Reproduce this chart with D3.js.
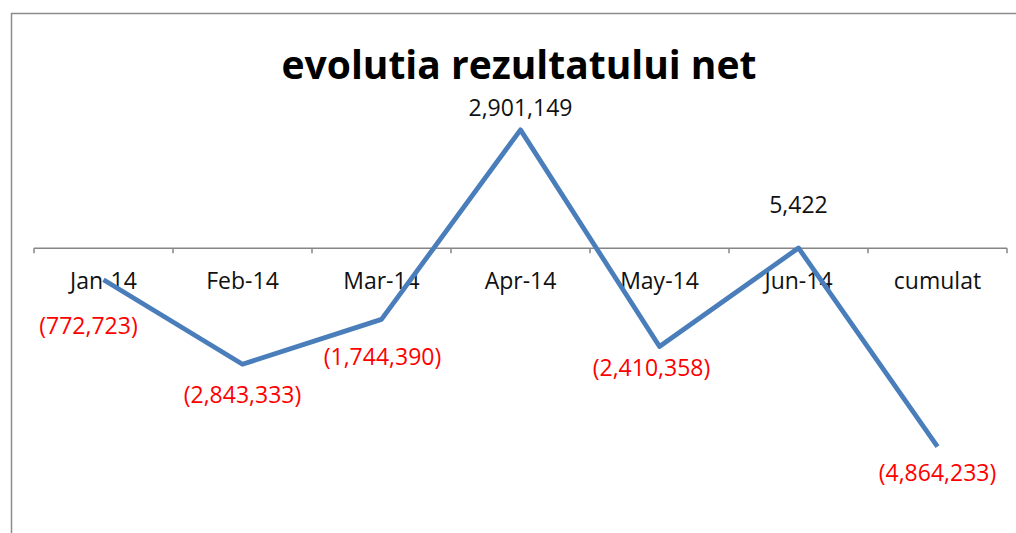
<!DOCTYPE html>
<html>
<head>
<meta charset="utf-8">
<script src="https://cdn.jsdelivr.net/npm/d3@7"></script>
<style>
  body { margin: 0; background: #fff; }
  text { font-family: "Open Sans", sans-serif; }
</style>
</head>
<body>
<div id="chart"></div>
<script>
var width = 1016,
    height = 533;

// data
const months = ['Jan-14', 'Feb-14', 'Mar-14', 'Apr-14', 'May-14', 'Jun-14', 'cumulat'];
const result = [-772723, -2843333, -1744390, 2901149, -2410358, 5422, -4864233];
const labels = ['(772,723)', '(2,843,333)', '(1,744,390)', '2,901,149', '(2,410,358)', '5,422', '(4,864,233)'];

// where each value label sits relative to its point (label layout, as in the sheet)
const labelNudge = [[-15, 46], [0, 31], [1, 38], [0, -22], [-8, 21], [0, -43], [0, 26]];

var svg = d3.select('#chart').append('svg')
    .attr('width', width)
    .attr('height', height);

// chart frame (only top and left are visible)
svg.append('path')
    .attr('d', `M11.5,${height} V13.5 H${width}`)
    .attr('fill', 'none')
    .attr('stroke', '#8c8c8c')
    .attr('stroke-width', 1.5);

svg.append('text')
    .attr('x', 519)
    .attr('y', 79)
    .attr('text-anchor', 'middle')
    .style('font-size', '39px')
    .style('font-weight', 'bold')
    .text('evolutia rezultatului net');

var x = d3.scaleBand()
    .domain(months)
    .range([34, 1007]);

var y = d3.scaleLinear()
    .domain([-6000000, 4000000])
    .range([493, 85]);

// category axis on the zero line
var axis = svg.append('g')
    .attr('transform', `translate(0,${y(0)})`);

axis.append('line')
    .attr('x1', x.range()[0])
    .attr('x2', x.range()[1])
    .attr('stroke', '#868686')
    .attr('stroke-width', 1.5);

axis.selectAll('.tick')
    .data(months.map(d => x(d)).concat([x.range()[1]]))
    .enter()
    .append('line')
    .attr('class', 'tick')
    .attr('x1', d => d)
    .attr('x2', d => d)
    .attr('y1', 0)
    .attr('y2', 5)
    .attr('stroke', '#868686')
    .attr('stroke-width', 1.5);

axis.selectAll('.cat')
    .data(months)
    .enter()
    .append('text')
    .attr('class', 'cat')
    .attr('x', d => x(d) + x.bandwidth() / 2)
    .attr('y', 41)
    .attr('text-anchor', 'middle')
    .style('font-size', '23px')
    .attr('fill', '#111')
    .text(d => d);

const line = d3.line()
    .x((d, i) => x(months[i]) + x.bandwidth() / 2)
    .y(d => y(d));

svg.append('path')
    .datum(result)
    .attr('fill', 'none')
    .attr('stroke', '#4a7ebb')
    .attr('stroke-width', 4.8)
    .attr('stroke-linejoin', 'round')
    .attr('d', line);

svg.selectAll('.value')
    .data(result)
    .enter()
    .append('text')
    .attr('class', 'value')
    .attr('x', (d, i) => x(months[i]) + x.bandwidth() / 2 + labelNudge[i][0])
    .attr('y', (d, i) => y(d) + labelNudge[i][1])
    .attr('dy', '0.35em')
    .attr('text-anchor', 'middle')
    .style('font-size', '23px')
    .attr('fill', d => d < 0 ? '#ff0000' : '#111')
    .text((d, i) => labels[i]);
</script>
</body>
</html>
